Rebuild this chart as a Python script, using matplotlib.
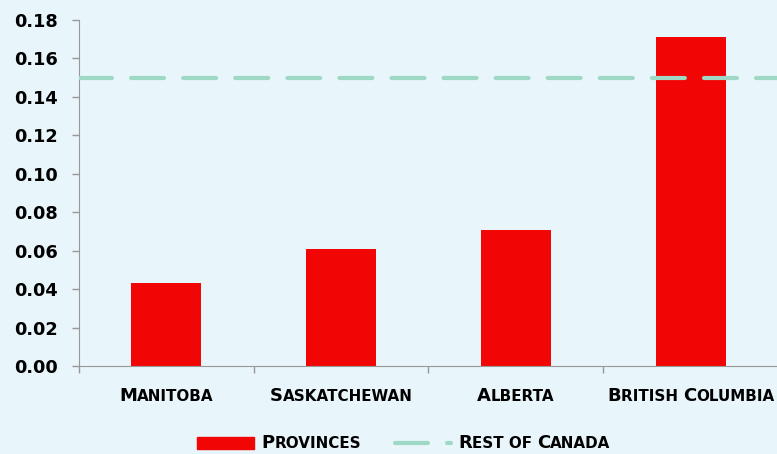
import matplotlib.pyplot as plt
from matplotlib.offsetbox import TextArea, HPacker, AnnotationBbox
from matplotlib.patches import Rectangle
from matplotlib.lines import Line2D

# Data
provinces = ["Manitoba", "Saskatchewan", "Alberta", "British Columbia"]
values = [0.043, 0.061, 0.071, 0.171]
rest_of_canada = 0.15
yticks = [0.00, 0.02, 0.04, 0.06, 0.08, 0.10, 0.12, 0.14, 0.16, 0.18]
legend_labels = ["Provinces", "Rest of Canada"]

bg = "#e8f5fa"
red = "#f20505"
teal = "#9dd9c4"
font = "DejaVu Sans"
dash = (0, (7.9, 4.6))


def small_caps(s, big=13, small=10.9):
    # split into runs of capitals (big) and lowercase (shown as small capitals)
    runs = []
    for ch in s:
        size = big if ch.isupper() else small
        if ch == " " and runs:
            size = runs[-1][1]
        if runs and runs[-1][1] == size:
            runs[-1][0] += ch.upper()
        else:
            runs.append([ch.upper(), size])
    boxes = [TextArea(t, textprops=dict(fontsize=sz, fontweight="bold",
                                        family=font, color="black"))
             for t, sz in runs]
    return HPacker(children=boxes, align="baseline", pad=0, sep=0)


fig = plt.figure(figsize=(7.77, 4.54), dpi=100, facecolor=bg)
ax = fig.add_axes([79 / 777, 1 - 366 / 454, 699 / 777, 346 / 454])
ax.set_facecolor(bg)

x = list(range(len(provinces)))
ax.bar(x, values, width=0.4, color=red, zorder=2)
ax.axhline(rest_of_canada, color=teal, lw=3, ls=dash,
           dash_capstyle="round", zorder=3)

ax.set_xlim(-0.5, len(provinces) - 0.5)
ax.set_ylim(0, 0.18)
ax.set_yticks(yticks)
ax.set_yticklabels([f"{v:.2f}" for v in yticks], fontsize=12.8,
                   fontweight="bold", family=font)
ax.set_xticks([i + 0.5 for i in range(-1, len(provinces))])
ax.set_xticklabels([])
ax.tick_params(axis="y", length=5, width=1, color="#999999", pad=10.5)
ax.tick_params(axis="x", length=5, width=1, color="#999999")
for s in ["top", "right"]:
    ax.spines[s].set_visible(False)
for s in ["left", "bottom"]:
    ax.spines[s].set_color("#999999")

# category labels in small caps
for i, name in enumerate(provinces):
    ab = AnnotationBbox(small_caps(name), (i, -30 / 346),
                        xycoords=ax.get_xaxis_transform(),
                        box_alignment=(0.5, 0.5), frameon=False,
                        annotation_clip=False)
    ax.add_artist(ab)

# legend drawn by hand
fig.add_artist(Rectangle((197 / 777, 1 - 449 / 454), 57 / 777, 12 / 454,
                         transform=fig.transFigure, color=red))
fig.add_artist(Line2D([395 / 777, 451 / 777], [1 - 443 / 454] * 2,
                      transform=fig.transFigure, color=teal, lw=3,
                      ls=dash, dash_capstyle="round"))
for lab, xl in zip(legend_labels, [261, 458]):
    ab = AnnotationBbox(small_caps(lab), (xl, 454 - 443),
                        xycoords="figure pixels", box_alignment=(0, 0.5),
                        frameon=False, annotation_clip=False)
    fig.add_artist(ab)

fig.savefig("out.png", dpi=100, facecolor=bg)
